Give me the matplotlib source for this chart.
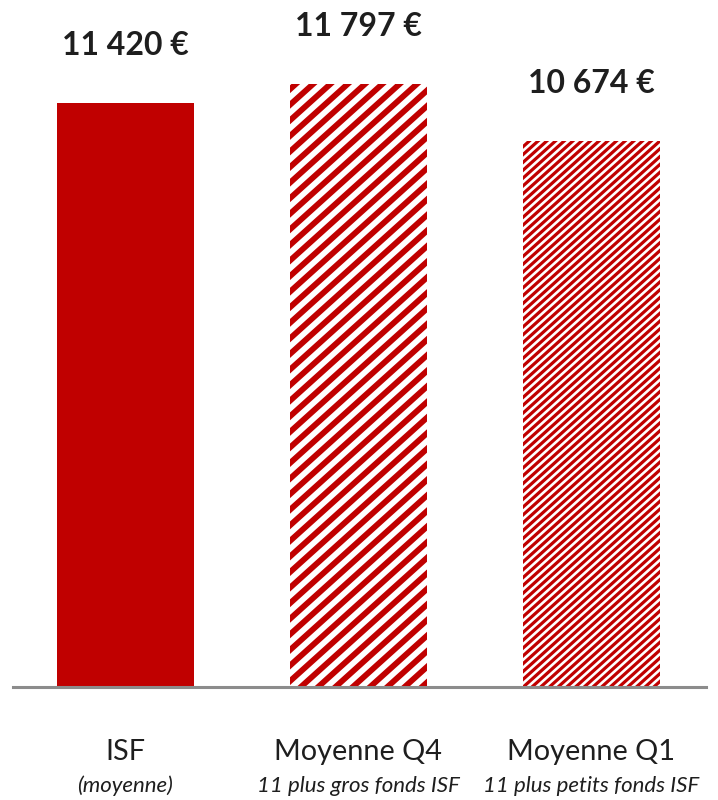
import numpy as np
import matplotlib
matplotlib.use("Agg")
import matplotlib.pyplot as plt
from matplotlib.collections import LineCollection
from matplotlib.transforms import IdentityTransform, blended_transform_factory

plt.rcParams['font.family'] = ['Lato', 'DejaVu Sans']

# average contribution per fund type
categories = ["ISF", "Moyenne Q4", "Moyenne Q1"]
subtitles = ["(moyenne)", "11 plus gros fonds ISF", "11 plus petits fonds ISF"]
values = [11420, 11797, 10674]
value_labels = ["11 420 €", "11 797 €", "10 674 €"]

# stripe pattern per bar: None = solid, else (pixel period, line width pt)
stripes = [None, (17.3, 4.2), (8.7, 2.3)]

red = "#C00000"
text_col = "#1e1e1e"

fig = plt.figure(figsize=(7.18, 8.0), dpi=100)
ax = fig.add_axes([0.018, 0.14125, 0.965, 0.85875])
ax.set_xlim(-0.483, 2.491)
ax.set_ylim(0, 13434)

bars = ax.bar(range(len(values)), values, width=0.588, linewidth=0)

renderer = fig.canvas.get_renderer()
angle = np.deg2rad(42)
for b, st in zip(bars, stripes):
    if st is None:
        b.set_facecolor(red)
        continue
    b.set_facecolor("white")
    period, lw = st
    ext = b.get_window_extent(renderer)
    # diagonal lines in pixel space, clipped to the bar
    slope = np.tan(angle)
    span = (ext.height + 20) / slope
    starts = np.arange(ext.x0 - span - period, ext.x1 + period, period)
    segs = [[(x0, ext.y0 - 10), (x0 + span, ext.y1 + 10)] for x0 in starts]
    lc = LineCollection(segs, colors=red, linewidths=lw,
                        transform=IdentityTransform(), antialiased=True)
    ax.add_collection(lc, autolim=False)
    lc.set_clip_path(b)

for i, (v, lab) in enumerate(zip(values, value_labels)):
    ax.annotate(lab, (i, v), xytext=(0, 34.6), textcoords="offset points",
                ha="center", va="baseline", fontsize=23, fontweight="bold",
                color=text_col)

for s in ["top", "right", "left"]:
    ax.spines[s].set_visible(False)
ax.spines["bottom"].set_color("#8c8c8c")
ax.spines["bottom"].set_linewidth(2.2)
ax.set_yticks([])
ax.set_xticks([])

trans = blended_transform_factory(ax.transData, fig.transFigure)
for i, (c, s) in enumerate(zip(categories, subtitles)):
    ax.text(i, 1 - 760 / 800, c, transform=trans, ha="center", va="baseline",
            fontsize=20.8, color=text_col, clip_on=False)
    ax.text(i, 1 - 792 / 800, s, transform=trans, ha="center", va="baseline",
            fontsize=16, style="italic", color=text_col, clip_on=False)

fig.savefig("out.png", dpi=100)
